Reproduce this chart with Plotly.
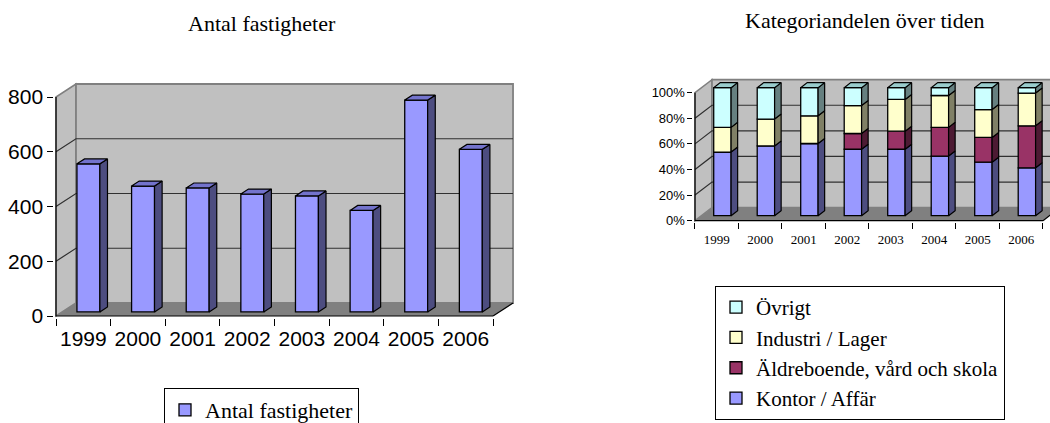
import plotly.graph_objects as go

# ---- data -------------------------------------------------------------
years = ["1999", "2000", "2001", "2002", "2003", "2004", "2005", "2006"]
antal = [541, 460, 453, 431, 424, 371, 774, 594]

# share of each category per year, in percent
kontor = [49.7, 54.5, 56.4, 51.9, 51.9, 46.6, 41.8, 37.4]
aldre = [0.0, 0.0, 0.0, 12.3, 14.1, 22.4, 19.3, 32.8]
industri = [19.3, 21.0, 21.6, 21.8, 24.8, 24.9, 21.8, 25.6]
ovrigt = [31.0, 24.5, 22.0, 14.0, 9.2, 6.1, 17.1, 4.2]

left_ticks = [0, 200, 400, 600, 800]
right_ticks = [0, 20, 40, 60, 80, 100]
right_ticktext = [f"{v}%" for v in right_ticks]

W, H = 1050, 423

SERIF = "Liberation Serif, Times New Roman, serif"
SANS = "Liberation Sans, Arial, sans-serif"

WALL = "#c0c0c0"
FLOOR = "#808080"
EDGE = "#808080"
GRID = "#303030"

fig = go.Figure()


def path(pts):
    return "M " + " L ".join(f"{x},{y}" for x, y in pts) + " Z"


def open_path(pts):
    return "M " + " L ".join(f"{x},{y}" for x, y in pts)


def add_box(ax, ay, n, vmax, ticks, DX, DY):
    """Walls, floor, gridlines and axis edges of a pseudo-3D plot box."""
    xr, yr = ax, ay
    shp = []
    # floor
    shp.append(dict(type="path", xref=xr, yref=yr, layer="below",
                    path=path([(0, 0), (n, 0), (n + DX, DY), (DX, DY)]),
                    fillcolor=FLOOR, line=dict(width=0)))
    # left wall
    shp.append(dict(type="path", xref=xr, yref=yr, layer="below",
                    path=path([(0, 0), (DX, DY), (DX, vmax + DY), (0, vmax)]),
                    fillcolor=WALL, line=dict(color=EDGE, width=1.5)))
    # back wall
    shp.append(dict(type="path", xref=xr, yref=yr, layer="below",
                    path=path([(DX, DY), (n + DX, DY), (n + DX, vmax + DY), (DX, vmax + DY)]),
                    fillcolor=WALL, line=dict(color=EDGE, width=1.8)))
    # gridlines on both walls
    for v in ticks[1:-1]:
        shp.append(dict(type="path", xref=xr, yref=yr, layer="below",
                        path=open_path([(0, v), (DX, v + DY), (n + DX, v + DY)]),
                        line=dict(color=GRID, width=1.2)))
    # floor right edge and the two axis edges
    shp.append(dict(type="path", xref=xr, yref=yr, layer="below",
                    path=open_path([(n, 0), (n + DX, DY)]),
                    line=dict(color="#000000", width=1.2)))
    shp.append(dict(type="path", xref=xr, yref=yr, layer="below",
                    path=open_path([(0, vmax), (0, 0), (n, 0)]),
                    line=dict(color="#000000", width=1.2)))
    return shp


def add_columns(ax, ay, stacks, fronts, sides, tops, names, legend, DX, DY,
                f0, f1, width):
    """Stacked pseudo-3D columns: front faces as bars, sides/tops as polygons."""
    n = len(stacks[0])
    bdx, bdy = (f1 - f0) * DX, (f1 - f0) * DY
    xc = [i + 0.48 + f0 * DX for i in range(n)]
    cum = [f0 * DY] * n
    side_polys = []
    k = len(stacks)
    for j, (vals, fc, name) in enumerate(zip(stacks, fronts, names)):
        fig.add_trace(go.Bar(
            x=xc, y=vals, base=list(cum), width=width,
            marker=dict(color=fc, line=dict(color="#000000", width=1.3)),
            name=name, legend=legend, legendrank=k - j,
            xaxis=ax, yaxis=ay, hoverinfo="skip"))
        xs, ys = [], []
        for i in range(n):
            if vals[i] <= 0:
                continue
            x0 = xc[i] + width / 2
            y0, y1 = cum[i], cum[i] + vals[i]
            xs += [x0, x0 + bdx, x0 + bdx, x0, x0, None]
            ys += [y0, y0 + bdy, y1 + bdy, y1, y0, None]
        side_polys.append((xs, ys))
        cum = [c + v for c, v in zip(cum, vals)]
    for (xs, ys), sc in zip(side_polys, sides):
        fig.add_trace(go.Scatter(
            x=xs, y=ys, mode="lines", fill="toself", fillcolor=sc,
            line=dict(color="#000000", width=1.2), showlegend=False,
            xaxis=ax, yaxis=ay, hoverinfo="skip"))
    # top face belongs to the highest segment of each column
    tx, ty = [], []
    for i in range(n):
        xl, xr_ = xc[i] - width / 2, xc[i] + width / 2
        yt = cum[i]
        tx += [xl, xr_, xr_ + bdx, xl + bdx, xl, None]
        ty += [yt, yt, yt + bdy, yt + bdy, yt, None]
    fig.add_trace(go.Scatter(
        x=tx, y=ty, mode="lines", fill="toself", fillcolor=tops[-1],
        line=dict(color="#000000", width=1.2), showlegend=False,
        xaxis=ax, yaxis=ay, hoverinfo="skip"))


# ---- left chart: number of properties ---------------------------------
L_DX, L_DY = 0.366, 47.5
L_px0, L_pxc, L_py0, L_pyu = 56.0, 54.63, 316.0, 0.27375
L_xlo, L_xhi = -0.03, 8 + L_DX + 0.03
L_ylo, L_yhi = -5.5, 800 + L_DY + 5.5

add_columns("x", "y", [antal], ["#9999ff"], ["#4d4d80"], ["#7373cc"],
            ["Antal fastigheter"], "legend", L_DX, L_DY, 0.31, 0.69, 0.42)

# ---- right chart: category shares -------------------------------------
R_DX, R_DY = 0.39, 10.2
R_px0, R_pxc, R_py0, R_pyu = 695.0, 43.5, 220.7, 1.28
R_xlo, R_xhi = -0.035, (W - R_px0) / 43.5
R_ylo, R_yhi = -1.2, 100 + R_DY + 1.2

add_columns("x2", "y2", [kontor, aldre, industri, ovrigt],
            ["#9999ff", "#993366", "#ffffcc", "#ccffff"],
            ["#4d4d80", "#4d1a33", "#808066", "#668080"],
            ["#7373cc", "#732650", "#bfbf99", "#99cccc"],
            ["Kontor / Affär", "Äldreboende, vård och skola",
             "Industri / Lager", "Övrigt"],
            "legend2", R_DX, R_DY, 0.385, 0.77, 0.40)

shapes = add_box("x", "y", 8, 800, left_ticks, L_DX, L_DY)
shapes += add_box("x2", "y2", 8, 100, right_ticks, R_DX, R_DY)


def xdom(px0, pxc, lo, hi):
    return [max(0.0, (px0 + lo * pxc) / W), min(1.0, (px0 + hi * pxc) / W)]


def ydom(py0, pyu, lo, hi):
    return [(H - (py0 - lo * pyu)) / H, (H - (py0 - hi * pyu)) / H]


centers = [i + 0.5 for i in range(len(years))]
bounds = list(range(len(years) + 1))

fig.update_layout(
    width=W, height=H, margin=dict(l=0, r=0, t=0, b=0, autoexpand=False),
    paper_bgcolor="white", plot_bgcolor="rgba(0,0,0,0)",
    barmode="overlay", shapes=shapes,
    xaxis=dict(domain=xdom(L_px0, L_pxc, L_xlo, L_xhi), range=[L_xlo, L_xhi],
               anchor="y", tickvals=centers, ticktext=years, ticks="",
               minor=dict(tickvals=bounds, ticks="outside", ticklen=7,
                          tickcolor="#000000", tickwidth=1, showgrid=False),
               showgrid=False, zeroline=False, showline=False,
               tickfont=dict(family=SANS, size=21, color="#000000"),
               ticklabelstandoff=6, fixedrange=True),
    yaxis=dict(domain=ydom(L_py0, L_pyu, L_ylo, L_yhi), range=[L_ylo, L_yhi],
               anchor="x", tickvals=left_ticks, ticks="outside", ticklen=6,
               tickcolor="#000000", showgrid=False, zeroline=False,
               showline=False, tickfont=dict(family=SANS, size=21, color="#000000"),
               fixedrange=True),
    xaxis2=dict(domain=xdom(R_px0, R_pxc, R_xlo, R_xhi), range=[R_xlo, R_xhi],
                anchor="y2", tickvals=centers, ticktext=years, ticks="",
                minor=dict(tickvals=bounds, ticks="outside", ticklen=6,
                           tickcolor="#000000", tickwidth=1, showgrid=False),
                showgrid=False, zeroline=False, showline=False,
                tickfont=dict(family=SERIF, size=13, color="#000000"),
                ticklabelstandoff=8, fixedrange=True),
    yaxis2=dict(domain=ydom(R_py0, R_pyu, R_ylo, R_yhi), range=[R_ylo, R_yhi],
                anchor="x2", tickvals=right_ticks, ticktext=right_ticktext,
                ticks="outside", ticklen=5, tickcolor="#000000",
                showgrid=False, zeroline=False, showline=False,
                tickfont=dict(family=SANS, size=13, color="#000000"),
                fixedrange=True),
    legend=dict(x=164 / W, y=(H - 388) / H, xanchor="left", yanchor="top",
                bgcolor="white", bordercolor="#000000", borderwidth=1,
                font=dict(family=SERIF, size=22, color="#000000")),
    legend2=dict(x=715 / W, y=(H - 286) / H, xanchor="left", yanchor="top",
                 bgcolor="white", bordercolor="#000000", borderwidth=1,
                 traceorder="normal", tracegroupgap=0,
                 font=dict(family=SERIF, size=21, color="#000000")),
    annotations=[
        dict(text="Antal fastigheter", x=262 / W, y=(H - 24) / H,
             xref="paper", yref="paper", showarrow=False,
             xanchor="center", yanchor="middle",
             font=dict(family=SERIF, size=22, color="#000000")),
        dict(text="Kategoriandelen över tiden", x=864 / W, y=(H - 21) / H,
             xref="paper", yref="paper", showarrow=False,
             xanchor="center", yanchor="middle",
             font=dict(family=SERIF, size=22, color="#000000")),
    ],
)

fig.write_html("out.html")
